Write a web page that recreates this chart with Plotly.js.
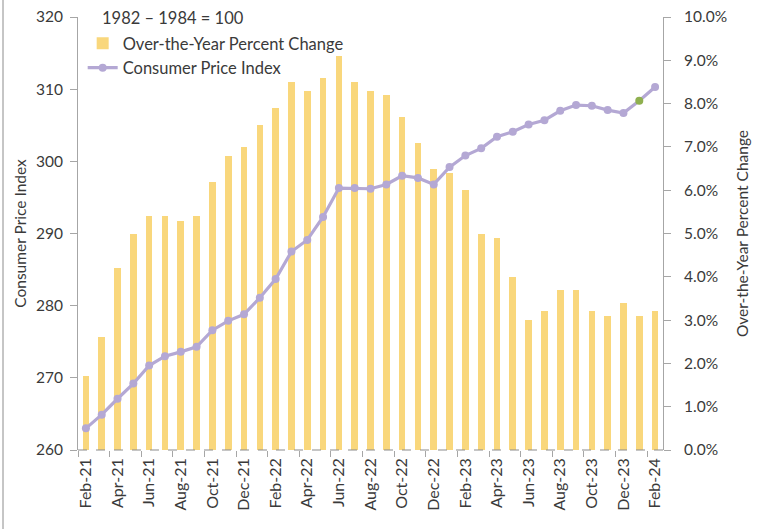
<!DOCTYPE html>
<html>
<head>
<meta charset="utf-8">
<script src="https://cdn.plot.ly/plotly-3.0.1.min.js"></script>
<style>
  html, body { margin: 0; padding: 0; background: #fff; }
  #chart { width: 759px; height: 529px; }
</style>
</head>
<body>
<div id="chart"></div>
<script>
const months = ["Feb-21","Mar-21","Apr-21","May-21","Jun-21","Jul-21","Aug-21","Sep-21","Oct-21","Nov-21","Dec-21",
  "Jan-22","Feb-22","Mar-22","Apr-22","May-22","Jun-22","Jul-22","Aug-22","Sep-22","Oct-22","Nov-22","Dec-22",
  "Jan-23","Feb-23","Mar-23","Apr-23","May-23","Jun-23","Jul-23","Aug-23","Sep-23","Oct-23","Nov-23","Dec-23",
  "Jan-24","Feb-24"];
const pctChange = [1.7,2.6,4.2,5.0,5.4,5.4,5.3,5.4,6.2,6.8,7.0,
  7.5,7.9,8.5,8.3,8.6,9.1,8.5,8.3,8.2,7.7,7.1,6.5,
  6.4,6.0,5.0,4.9,4.0,3.0,3.2,3.7,3.7,3.2,3.1,3.4,
  3.1,3.2];
const cpi = [263.0,264.9,267.1,269.2,271.7,273.0,273.6,274.3,276.6,277.9,278.8,
  281.1,283.7,287.5,289.1,292.3,296.3,296.3,296.2,296.8,298.0,297.7,296.8,
  299.2,300.8,301.8,303.4,304.1,305.1,305.7,307.0,307.8,307.7,307.1,306.7,
  308.4,310.3];
const highlightMonth = "Jan-24";
const baseNote = "1982 – 1984 = 100";

const lavender = "#b4a8d4";
const green = "#8fb04f";
const barColor = "#f9d77c";
const textColor = "#3a3a3a";
const axisColor = "#a6a6a6";
const fontFam = "Lato, 'Open Sans', sans-serif";

// Bars use the base axis (drawn first, underneath); the CPI line uses the overlaying axis (drawn on top).
const traces = [
  {
    type: "bar",
    name: "Over-the-Year Percent Change",
    x: months,
    y: pctChange.map(v => v / 100),
    yaxis: "y",
    width: 0.42,
    marker: { color: barColor },
    hoverinfo: "x+y"
  },
  {
    type: "scatter",
    mode: "lines+markers",
    name: "Consumer Price Index",
    x: months,
    y: cpi,
    yaxis: "y2",
    line: { color: lavender, width: 3.2 },
    marker: { size: 8, color: months.map(m => m === highlightMonth ? green : lavender) }
  }
];

const layout = {
  width: 759,
  height: 529,
  margin: { l: 78, r: 96, t: 17, b: 79, autoexpand: false },
  paper_bgcolor: "#fff",
  plot_bgcolor: "#fff",
  font: { family: fontFam, size: 15, color: textColor },
  showlegend: true,
  legend: {
    x: 0.008, y: 1.0 - 26 / 529, xanchor: "left", yanchor: "top",
    yref: "container",
    bgcolor: "rgba(0,0,0,0)",
    font: { size: 16.5, color: textColor },
    tracegroupgap: 0,
    itemwidth: 30
  },
  annotations: [
    { text: baseNote, xref: "paper", yref: "paper", x: 22 / 585, y: 1 - 1 / 433,
      xanchor: "left", yanchor: "middle", showarrow: false,
      font: { size: 16.5, color: textColor } }
  ],
  bargap: 0,
  xaxis: {
    type: "category",
    range: [-0.5, months.length - 0.5],
    tickmode: "linear",
    tick0: 0,
    dtick: 2,
    tickson: "boundaries",
    ticks: "outside",
    ticklen: 6,
    tickcolor: axisColor,
    tickangle: -90,
    ticklabelstandoff: 4,
    showline: false,
    showgrid: false,
    zeroline: false,
    tickfont: { size: 16, color: textColor }
  },
  yaxis: {
    side: "right",
    range: [0, 0.10],
    dtick: 0.01,
    tick0: 0,
    tickformat: ".1%",
    showgrid: false,
    zeroline: false,
    showline: true,
    linecolor: axisColor,
    ticks: "outside",
    ticklen: 7,
    tickcolor: axisColor,
    ticklabelstandoff: 10,
    title: { text: "Over-the-Year Percent Change", font: { size: 15.5, color: textColor }, standoff: 10 },
    tickfont: { size: 15.5, color: textColor }
  },
  yaxis2: {
    overlaying: "y",
    side: "left",
    range: [260, 320],
    dtick: 10,
    tick0: 260,
    showgrid: false,
    zeroline: false,
    showline: true,
    linecolor: axisColor,
    ticks: "outside",
    ticklen: 7,
    tickcolor: axisColor,
    ticklabelstandoff: 4,
    title: { text: "Consumer Price Index", font: { size: 15.5, color: textColor }, standoff: 5 },
    tickfont: { size: 15.5, color: textColor }
  },
  shapes: [
    { type: "line", xref: "paper", yref: "paper", x0: 0, x1: 1, y0: 0, y1: 0,
      line: { color: "#8c8c8c", width: 1.2, dash: "dash" } },
    { type: "line", xref: "paper", yref: "paper", x0: -75/585, x1: -75/585, y0: -79/433, y1: (529-17)/433,
      line: { color: "#8c8c8c", width: 1 } }
  ]
};

Plotly.newPlot("chart", traces, layout, { displayModeBar: false, staticPlot: true });
</script>
</body>
</html>
